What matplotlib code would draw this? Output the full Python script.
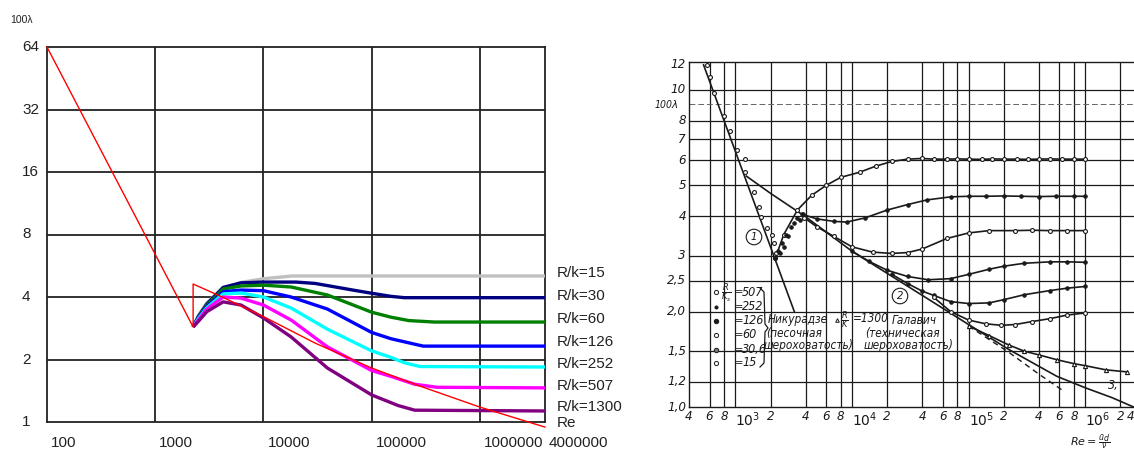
import matplotlib
matplotlib.use('Agg')
import matplotlib.pyplot as plt
from matplotlib.lines import Line2D
from matplotlib import transforms, font_manager

W, H = 1134, 453

# ---------------- left panel data (Re, 100*lambda) ----------------
red_re  = [100, 2240, 2240, 4160, 1e4, 3e4, 6.2e4, 1e5, 2.5e5, 1e6, 4e6]
red_val = [64, 2.87, 4.62, 4.0, 3.22, 2.4, 2.03, 1.82, 1.52, 1.18, 0.945]

rk_labels = ['R/k=15', 'R/k=30', 'R/k=60', 'R/k=126', 'R/k=252', 'R/k=507', 'R/k=1300']
rk_colors = ['#c0c0c0', '#000080', '#008000', '#0000ff', '#00ffff', '#ff00ff', '#800080']

re15  = [2240, 2500, 3000, 4250, 6200, 1e4, 1.85e4, 4e6]
val15 = [2.87, 3.25, 3.75, 4.42, 4.7, 4.9, 5.05, 5.05]
re30  = [2240, 2500, 3000, 4250, 6200, 1e4, 2e4, 3e4, 6.7e4, 1e5, 1.5e5, 2e5, 4e6]
val30 = [2.87, 3.22, 3.7, 4.45, 4.68, 4.72, 4.72, 4.65, 4.32, 4.17, 4.03, 3.97, 3.97]
re60  = [2240, 2500, 3000, 4250, 6200, 1e4, 1.8e4, 3.9e4, 1e5, 1.5e5, 2.2e5, 3.8e5, 4e6]
val60 = [2.87, 3.2, 3.65, 4.37, 4.52, 4.56, 4.47, 4.09, 3.38, 3.2, 3.08, 3.03, 3.03]
re126  = [2240, 2500, 3000, 4250, 6200, 1e4, 1.8e4, 3.9e4, 1e5, 1.5e5, 2.5e5, 3e5, 4e6]
val126 = [2.87, 3.17, 3.6, 4.24, 4.32, 4.29, 4.0, 3.5, 2.7, 2.52, 2.37, 2.32, 2.32]
re252  = [2240, 2500, 3000, 4250, 6200, 1e4, 1.8e4, 3.9e4, 1e5, 1.5e5, 2e5, 2.8e5, 4e6]
val252 = [2.87, 3.14, 3.55, 4.14, 4.18, 4.0, 3.54, 2.8, 2.2, 2.05, 1.93, 1.85, 1.84]
re507  = [2240, 2500, 3000, 4250, 6200, 1e4, 1.8e4, 3.9e4, 1e5, 1.5e5, 2.5e5, 4e5, 4e6]
val507 = [2.87, 3.1, 3.5, 4.0, 3.95, 3.66, 3.1, 2.3, 1.77, 1.66, 1.52, 1.47, 1.46]
re1300  = [2240, 2500, 3000, 4250, 6200, 1e4, 1.8e4, 3.9e4, 1e5, 1.76e5, 2.5e5, 4e6]
val1300 = [2.87, 3.05, 3.4, 3.79, 3.66, 3.17, 2.57, 1.82, 1.35, 1.2, 1.14, 1.13]

rk_re  = [re15, re30, re60, re126, re252, re507, re1300]
rk_val = [val15, val30, val60, val126, val252, val507, val1300]

left_xticks = [100, 1000, 10000, 100000, 1000000, 4000000]
left_xlabels = ['100', '1000', '10000', '100000', '1000000', '4000000']
left_yticks = [64, 32, 16, 8, 4, 2, 1]

# ---------------- right panel data (scanned Nikuradse chart) ----------------
lam1_re  = [533, 3200]
lam1_val = [12.0, 2.0]
lam_pts_re  = [575, 610, 660, 800, 900, 1040, 1200, 1220, 1450, 1580, 1670, 1850, 2040, 2160, 2250]
lam_pts_val = [12.0, 11.0, 9.75, 8.3, 7.4, 6.45, 6.05, 5.5, 4.76, 4.27, 3.97, 3.67, 3.48, 3.29, 3.06]
tr_pts_re  = [2200, 2300, 2400, 2500, 2600, 2700, 2850, 3000, 3200, 3400, 3600, 3800]
tr_pts_val = [2.95, 3.1, 3.05, 3.3, 3.2, 3.5, 3.45, 3.7, 3.8, 3.95, 3.9, 4.05]

smooth_re  = [1240, 2000, 4000, 1e4, 2e4, 4e4, 1e5, 2.2e5, 5.7e5, 1e6, 1.7e6, 2.6e6]
smooth_val = [5.35, 4.72, 3.98, 3.1, 2.64, 2.25, 1.82, 1.52, 1.25, 1.15, 1.07, 1.0]
blas_re  = [1e5, 2.2e5, 4e5, 6.6e5]
blas_val = [1.8, 1.49, 1.27, 1.12]

n15_re  = [2200, 2600, 3400, 4500, 6000, 8000, 1.16e4, 1.6e4, 2.2e4, 3e4, 4e4, 5e4, 6.5e4, 8e4,
           1e5, 1.3e5, 1.6e5, 2e5, 2.6e5, 3.2e5, 4e5, 5e5, 6.3e5, 8e5, 1e6]
n15_val = [2.95, 3.5, 4.18, 4.65, 5.0, 5.3, 5.5, 5.75, 5.95, 6.05, 6.08, 6.05, 6.05, 6.06,
           6.05, 6.04, 6.06, 6.05, 6.05, 6.04, 6.05, 6.06, 6.05, 6.05, 6.05]
n30_re  = [3760, 5000, 7000, 9000, 1.3e4, 2e4, 3e4, 4.4e4, 7e4, 1e5, 1.4e5, 2e5, 2.8e5, 4e5, 5.6e5, 8e5, 1e6]
n30_val = [4.05, 3.92, 3.85, 3.83, 3.95, 4.18, 4.35, 4.5, 4.6, 4.62, 4.62, 4.63, 4.62, 4.61, 4.62, 4.62, 4.62]
n60_re  = [3900, 5000, 7000, 1e4, 1.5e4, 2.2e4, 3e4, 4e4, 6.5e4, 1e5, 1.5e5, 2.5e5, 3.5e5, 5e5, 7e5, 1e6]
n60_val = [3.95, 3.7, 3.45, 3.2, 3.08, 3.05, 3.07, 3.15, 3.4, 3.54, 3.6, 3.6, 3.61, 3.6, 3.6, 3.6]
n126_re  = [1e4, 1.4e4, 2e4, 3e4, 4.5e4, 7e4, 1e5, 1.5e5, 2e5, 3e5, 5e5, 7e5, 1e6]
n126_val = [3.1, 2.88, 2.7, 2.58, 2.52, 2.54, 2.62, 2.72, 2.78, 2.84, 2.87, 2.87, 2.86]
n252_re  = [2.2e4, 3e4, 4e4, 5e4, 7e4, 1e5, 1.5e5, 2e5, 3e5, 5e5, 7e5, 1e6]
n252_val = [2.62, 2.45, 2.32, 2.25, 2.15, 2.12, 2.13, 2.18, 2.26, 2.33, 2.37, 2.4]
n507_re  = [5e4, 7e4, 1e5, 1.4e5, 1.9e5, 2.5e5, 3.5e5, 5e5, 7e5, 1e6]
n507_val = [2.22, 2.0, 1.88, 1.83, 1.81, 1.82, 1.86, 1.9, 1.95, 1.98]
g1300_re  = [1e5, 1.5e5, 2.2e5, 3e5, 4e5, 5.7e5, 8e5, 1e6, 1.5e6, 2.3e6]
g1300_val = [1.8, 1.68, 1.57, 1.5, 1.46, 1.41, 1.37, 1.35, 1.31, 1.29]

r_xticks = [400, 600, 800, 1e3, 2e3, 4e3, 6e3, 8e3, 1e4, 2e4, 4e4, 6e4, 8e4, 1e5,
            2e5, 4e5, 6e5, 8e5, 1e6, 2e6]
r_xlabels = ['4', '6', '8', r'$10^3$', '2', '4', '6', '8', r'$10^4$', '2', '4', '6', '8', r'$10^5$',
             '2', '4', '6', '8', r'$10^6$', '2']
r_yticks = [1.0, 1.2, 1.5, 2.0, 2.5, 3, 4, 5, 6, 7, 8, 10, 12]
r_ylabels = ['1,0', '1,2', '1,5', '2,0', '2,5', '3', '4', '5', '6', '7', '8', '10', '12']

legend_val = ['507', '252', '126', '60', '30,6', '15']


def px(x, y):
    return x / W, 1 - y / H


installed = {f.name for f in font_manager.fontManager.ttflist}
if 'Liberation Sans Narrow' in installed:
    SCAN = dict(family='Liberation Sans Narrow', style='italic')
else:
    SCAN = dict(family='DejaVu Sans', style='italic', fontstretch='condensed')

fig = plt.figure(figsize=(W / 100, H / 100), dpi=100)
fig.patch.set_facecolor('white')
ARIAL = 'Liberation Sans'

# ======================= left panel =======================
ax = fig.add_axes([47 / W, (H - 422) / H, 498 / W, 375 / H])
ax.set_xscale('log')
ax.set_yscale('log', base=2)
ax.set_xlim(100, 4e6)
ax.set_ylim(1, 64)
ax.set_xticks([])
ax.set_yticks([])
ax.minorticks_off()
for s in ax.spines.values():
    s.set_linewidth(1.3)
    s.set_color('#222222')
for v in [1e3, 1e4, 1e5, 1e6]:
    ax.axvline(v, color='#222222', lw=1.3, zorder=1)
for v in [2, 4, 8, 16, 32]:
    ax.axhline(v, color='#222222', lw=1.3, zorder=1)

for xs, ys, c in zip(rk_re, rk_val, rk_colors):
    ax.plot(xs, ys, color=c, lw=2.4, zorder=3, solid_capstyle='butt', clip_on=False)
ax.plot(red_re, red_val, color='#ff0000', lw=1.0, zorder=4, clip_on=False)

tx = transforms.blended_transform_factory(ax.transData, fig.transFigure)
tx = transforms.offset_copy(tx, fig=fig, x=4, y=0, units='dots')
for v, lab in zip(left_xticks, left_xlabels):
    ax.text(v, 1 - 443 / H, lab, transform=tx, ha='left', va='center',
            fontsize=11, family=ARIAL, color='#222222')
ty = transforms.blended_transform_factory(fig.transFigure, ax.transData)
for v in left_yticks:
    ax.text(22 / W, v, str(v), transform=ty, ha='left', va='center',
            fontsize=11, family=ARIAL, color='#222222')
fig.text(*px(10, 20), '100λ', ha='left', va='center', fontsize=7.5,
         family=ARIAL, color='#222222')

for lab, yy in zip(rk_labels + ['Re'], [273, 296, 319, 342, 364, 386, 407, 423]):
    fig.text(*px(557, yy), lab, ha='left', va='center', fontsize=11,
             family=ARIAL, color='#222222')

# ======================= right panel =======================
INK = '#1a1a1a'
ITAL = dict(color=INK, **SCAN)
ax2 = fig.add_axes([689 / W, (H - 407) / H, (W - 689) / W, 345 / H])
ax2.set_xscale('log')
ax2.set_yscale('log')
ax2.set_xlim(400, 2.62e6)
ax2.set_ylim(1.0, 12.25)
ax2.set_xticks([])
ax2.set_yticks([])
ax2.minorticks_off()
ax2.spines['right'].set_visible(False)
for s in ['left', 'bottom', 'top']:
    ax2.spines[s].set_linewidth(1.0)
    ax2.spines[s].set_color(INK)
for v in r_xticks[1:]:
    ax2.axvline(v, color=INK, lw=0.9, zorder=1)
for v in r_yticks[1:-1]:
    ax2.axhline(v, color=INK, lw=0.9, zorder=1)
ax2.axhline(9, color='#666666', lw=0.7, ls=(0, (6, 3)), zorder=1)

line_kw = dict(color=INK, lw=1.2, zorder=3)
ax2.plot(lam1_re, lam1_val, **line_kw)
ax2.plot(smooth_re, smooth_val, **line_kw)
ax2.plot(blas_re, blas_val, color=INK, lw=1.0, ls=(0, (4, 3)), zorder=3)

mk_open = dict(marker='o', ms=2.8, mfc='white', mec=INK, mew=0.8)
mk_fill = dict(marker='o', ms=2.6, mfc=INK, mec=INK, mew=0.6)
ax2.plot(lam_pts_re, lam_pts_val, ls='none', zorder=4, **mk_open)
ax2.plot(tr_pts_re, tr_pts_val, ls='none', zorder=4, **mk_fill)
ax2.plot(n15_re, n15_val, **line_kw, **mk_open)
ax2.plot(n30_re, n30_val, **line_kw, **mk_fill)
ax2.plot(n60_re, n60_val, **line_kw, **mk_open)
ax2.plot(n126_re, n126_val, **line_kw, **mk_fill)
ax2.plot(n252_re, n252_val, **line_kw, **mk_fill)
ax2.plot(n507_re, n507_val, **line_kw, **mk_open)
ax2.plot(g1300_re, g1300_val, color=INK, lw=1.2, zorder=3, marker='^', ms=3.0,
         mfc='white', mec=INK, mew=0.8)

# axis labels of the scan
tlx = transforms.blended_transform_factory(ax2.transData, fig.transFigure)
for v, lab in zip(r_xticks, r_xlabels):
    big = lab.startswith('$')
    ax2.text(v, 1 - (420 if big else 416) / H, lab, transform=tlx,
             ha='left' if big else 'center', va='center',
             fontsize=10 if big else 9.5, clip_on=False, **ITAL)
fig.text(*px(1131, 416), '4', ha='center', va='center', fontsize=9.5, **ITAL)
tly = transforms.blended_transform_factory(fig.transFigure, ax2.transData)
for v, lab in zip(r_yticks, r_ylabels):
    ax2.text(686 / W, v, lab, transform=tly, ha='right', va='center',
             fontsize=9.5, clip_on=False, **ITAL)
fig.text(*px(666, 104), r'100$\lambda$', ha='center', va='center', fontsize=7.5, **ITAL)
fig.text(*px(1090, 442), r'$Re=\frac{\bar{u}d}{\nu}$', ha='center', va='center',
         fontsize=8, **ITAL)

# legend of the scan
legend_y = [292, 307, 321, 335, 350, 363]
legend_fill = ['white', INK, INK, 'white', '#777777', 'white']
legend_size = [3.0, 2.2, 3.2, 3.0, 3.2, 3.0]
for yy, lab, fc, ms in zip(legend_y, legend_val, legend_fill, legend_size):
    fig.add_artist(Line2D([716 / W], [1 - yy / H], marker='o', ms=ms, mfc=fc,
                          mec=INK, mew=0.7, ls='none'))
    fig.text(*px(735, yy), '=', ha='left', va='center', fontsize=8, **ITAL)
    fig.text(*px(742, yy), lab, ha='left', va='center', fontsize=9, **ITAL)
fig.text(*px(726, 293), r'$\frac{R}{K_s}$', ha='center', va='center', fontsize=8.5, **ITAL)
fig.add_artist(Line2D([x / W for x in [760, 764, 765, 768, 765, 764, 760]],
                      [1 - y / H for y in [288, 292, 324, 328, 332, 363, 367]],
                      color=INK, lw=0.9))

fs = 8.5
fig.text(*px(768, 320), 'Никурадзе', ha='left', va='center', fontsize=fs, **ITAL)
fig.text(*px(766, 333), '(песочная', ha='left', va='center', fontsize=fs, **ITAL)
fig.text(*px(764, 346), 'шероховатость)', ha='left', va='center', fontsize=fs, **ITAL)
fig.add_artist(Line2D([837 / W], [1 - 320 / H], marker='^', ms=2.6, mfc='white',
                      mec=INK, mew=0.7, ls='none'))
fig.text(*px(841, 320), r'$\frac{R}{K}$', ha='left', va='center', fontsize=8.5, **ITAL)
fig.text(*px(853, 319), '=1300', ha='left', va='center', fontsize=fs, **ITAL)
fig.text(*px(892, 320), 'Галавич', ha='left', va='center', fontsize=fs, **ITAL)
fig.text(*px(865, 333), '(техническая', ha='left', va='center', fontsize=fs, **ITAL)
fig.text(*px(864, 346), 'шероховатость)', ha='left', va='center', fontsize=fs, **ITAL)

circ = dict(boxstyle='circle,pad=0.25', fc='white', ec=INK, lw=0.8)
fig.text(*px(754, 237), '1', ha='center', va='center', fontsize=8, bbox=circ, **ITAL)
fig.text(*px(900, 296), '2', ha='center', va='center', fontsize=8, bbox=circ, **ITAL)
fig.text(*px(1113, 386), '3,', ha='center', va='center', fontsize=9, **ITAL)

plt.savefig('out.png', dpi=100, facecolor='white')
